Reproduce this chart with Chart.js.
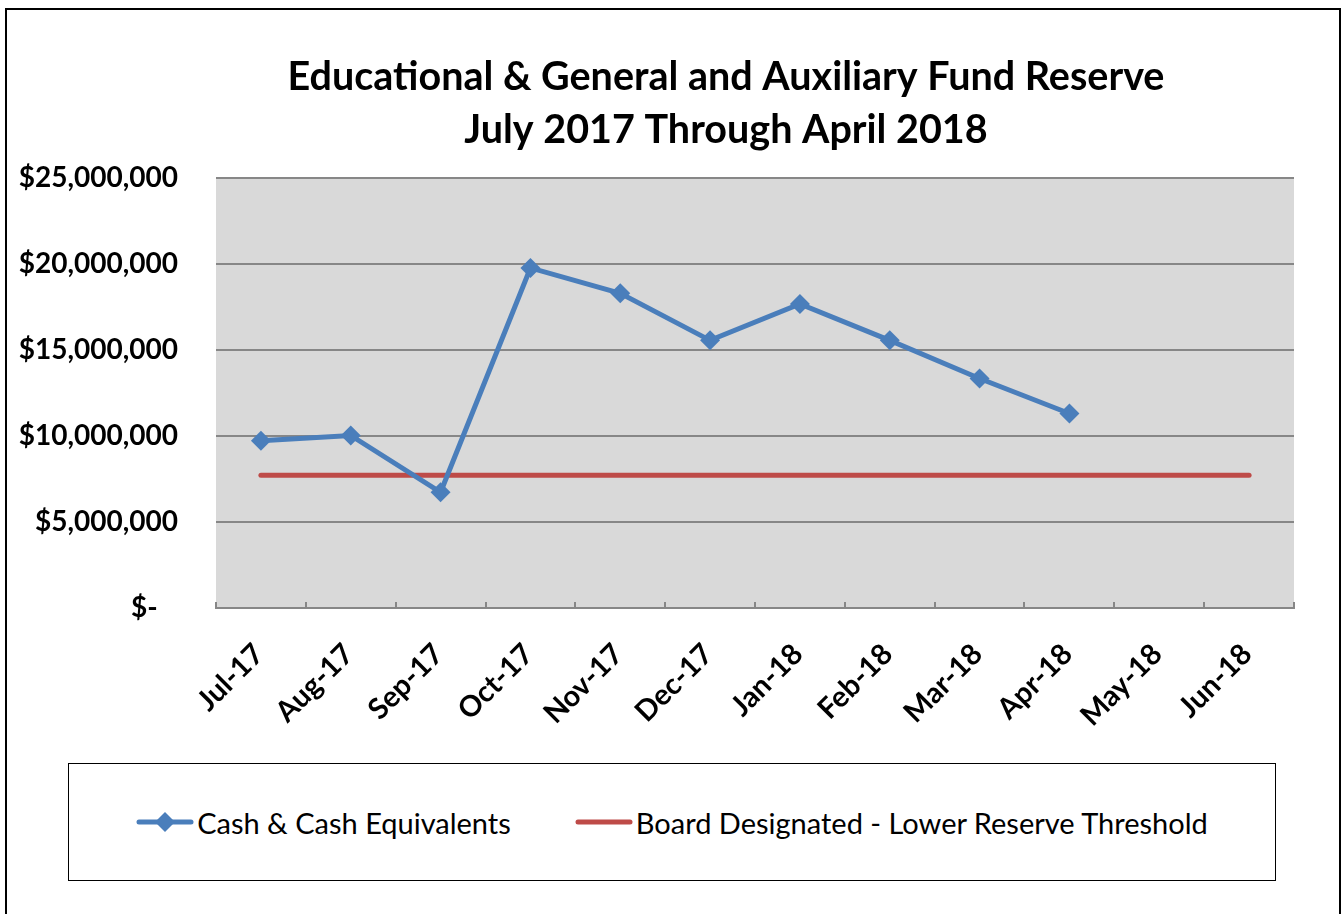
<!DOCTYPE html>
<html>
<head>
<meta charset="utf-8">
<script src="https://cdn.jsdelivr.net/npm/chart.js@4.4.1/dist/chart.umd.min.js"></script>
<style>
  body { margin: 0; background: #fff; font-family: Lato, sans-serif; }
  #frame { position: absolute; left: 5px; top: 8px; width: 1336px; height: 940px; border: 2px solid #000; box-sizing: border-box; }
  #chartBox { position: absolute; left: 0; top: 0; width: 1342px; height: 914px; }
  #legend { position: absolute; left: 68px; top: 763px; width: 1208px; height: 118px; border: 1px solid #000; box-sizing: border-box;
            display: flex; align-items: center; justify-content: center; gap: 64px; font-size: 29px; color: #000; background: #fff; }
  .item { display: flex; align-items: center; }
  .item svg { margin-right: 3px; }
</style>
</head>
<body>
<div id="frame"></div>
<div id="chartBox"><canvas id="reserveChart" width="1342" height="914"></canvas></div>
<div id="legend"></div>
<script>
// chart data
const titleLines = ['Educational & General and Auxiliary Fund Reserve', 'July 2017 Through April 2018'];
const months = ['Jul-17', 'Aug-17', 'Sep-17', 'Oct-17', 'Nov-17', 'Dec-17', 'Jan-18', 'Feb-18', 'Mar-18', 'Apr-18', 'May-18', 'Jun-18'];
const cashValues = [9720000, 10030000, 6730000, 19770000, 18300000, 15560000, 17680000, 15560000, 13340000, 11310000];
const thresholdValues = [7720000, 7720000, 7720000, 7720000, 7720000, 7720000, 7720000, 7720000, 7720000, 7720000, 7720000, 7720000];
const seriesNames = ['Cash & Cash Equivalents', 'Board Designated - Lower Reserve Threshold'];
const yTickValues = [0, 5000000, 10000000, 15000000, 20000000, 25000000];

const blue = '#4a7ebb';
const red = '#be4b48';
const gridGray = '#878787';

Chart.defaults.font.family = 'Lato, sans-serif';
Chart.defaults.color = '#000';

// grey plot background
const plotBg = {
    id: 'plotBg',
    beforeDraw(chart) {
        const a = chart.chartArea;
        const ctx = chart.ctx;
        ctx.save();
        ctx.fillStyle = '#d9d9d9';
        ctx.fillRect(a.left, a.top, a.right - a.left, a.bottom - a.top);
        ctx.restore();
    }
};

// small upward tick marks between categories (Excel style)
const catTicks = {
    id: 'catTicks',
    beforeDatasetsDraw(chart) {
        const x = chart.scales.x;
        const a = chart.chartArea;
        const half = (x.getPixelForValue(1) - x.getPixelForValue(0)) / 2;
        const ctx = chart.ctx;
        ctx.save();
        ctx.strokeStyle = gridGray;
        ctx.lineWidth = 2;
        ctx.beginPath();
        for (let i = 0; i <= months.length; i++) {
            const px = Math.round(x.getPixelForValue(i) - half);
            ctx.moveTo(px, a.bottom);
            ctx.lineTo(px, a.bottom - 6);
        }
        ctx.stroke();
        ctx.restore();
    }
};

// two-line title, bold
const titleText = {
    id: 'titleText',
    afterDraw(chart) {
        const ctx = chart.ctx;
        ctx.save();
        ctx.font = 'bold 39.5px Lato, sans-serif';
        ctx.fillStyle = '#000';
        ctx.textAlign = 'center';
        ctx.textBaseline = 'middle';
        titleLines.forEach((t, i) => ctx.fillText(t, 726, 77 + i * 53));
        ctx.restore();
    }
};

const ctx = document.getElementById('reserveChart').getContext('2d');
const chart = new Chart(ctx, {
    type: 'line',
    data: {
        labels: months,
        datasets: [
            {
                label: seriesNames[0],
                data: cashValues,
                borderColor: blue,
                backgroundColor: blue,
                borderWidth: 5,
                pointStyle: 'rectRot',
                pointRadius: 10,
                pointBorderWidth: 0,
                pointBackgroundColor: blue,
                tension: 0,
                order: 1
            },
            {
                label: seriesNames[1],
                data: thresholdValues,
                borderColor: red,
                backgroundColor: red,
                borderWidth: 5,
                borderCapStyle: 'round',
                pointRadius: 0,
                tension: 0,
                order: 2
            }
        ]
    },
    options: {
        responsive: false,
        animation: false,
        events: [],
        layout: { padding: { top: 178, left: 10, right: 48, bottom: 146 } },
        plugins: {
            legend: { display: false },
            tooltip: { enabled: false },
            title: { display: false }
        },
        scales: {
            x: {
                offset: true,
                grid: { display: false, drawTicks: false },
                border: { display: true, color: gridGray, width: 2 },
                ticks: {
                    font: { size: 29, weight: 'bold' },
                    minRotation: 45,
                    maxRotation: 45,
                    padding: 29,
                    labelOffset: -2,
                    autoSkip: false
                },
                afterFit(scale) { scale.height = 160; }
            },
            y: {
                min: 0,
                max: 25000000,
                afterBuildTicks(scale) { scale.ticks = yTickValues.map(v => ({ value: v })); },
                grid: { color: gridGray, lineWidth: 2, drawTicks: false },
                border: { display: false },
                ticks: {
                    font: { size: 28, weight: 'bold' },
                    padding: 38,
                    callback: v => v === 0 ? '$-   ' : '$' + v.toLocaleString('en-US')
                },
                afterFit(scale) { scale.width = 206; }
            }
        }
    },
    plugins: [plotBg, catTicks, titleText]
});

// html legend built from the datasets
const legendEl = document.getElementById('legend');
chart.data.datasets.forEach(ds => {
    const item = document.createElement('div');
    item.className = 'item';
    const marker = ds.pointRadius > 0
        ? `<polygon points="29,0 39,10 29,20 19,10" fill="${ds.borderColor}"/>`
        : '';
    item.innerHTML = `<svg width="58" height="20" viewBox="0 0 58 20">
        <line x1="3" y1="10" x2="55" y2="10" stroke="${ds.borderColor}" stroke-width="5" stroke-linecap="round"/>
        ${marker}</svg><span>${ds.label}</span>`;
    legendEl.appendChild(item);
});
</script>
</body>
</html>
